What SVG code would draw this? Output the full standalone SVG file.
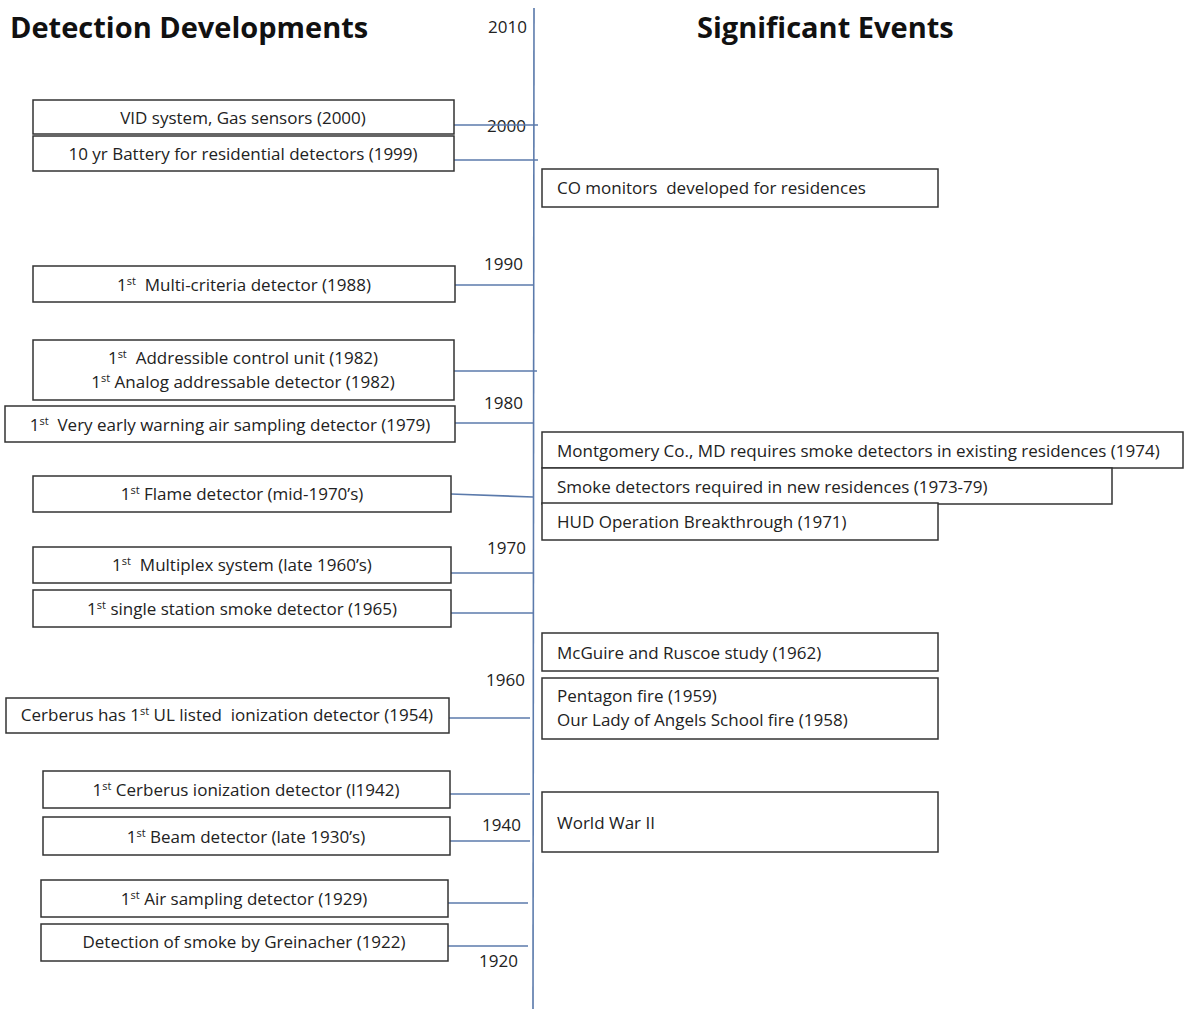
<svg xmlns="http://www.w3.org/2000/svg" width="1186" height="1009" viewBox="0 0 1186 1009">
<style>
.box{fill:#fff;stroke:#333;stroke-width:1.5}
text{white-space:pre}
.t{font-family:"Open Sans","Liberation Sans",Arial,sans-serif;font-size:17px;fill:#222}
.c{text-anchor:middle}
.h{font-family:"Open Sans","Liberation Sans",Arial,sans-serif;font-size:29px;font-weight:bold;fill:#111}
.yr{font-family:"Open Sans","Liberation Sans",Arial,sans-serif;font-size:17px;fill:#222}
.sup{font-size:11px}
.ln{stroke:#5b7aab;stroke-width:1.6;fill:none}
</style>
<rect width="1186" height="1009" fill="#fff"/>
<text class="h" x="10" y="38">Detection Developments</text>
<text class="h" x="697" y="38">Significant Events</text>
<g id="axis">
<line class="ln" x1="534" y1="8" x2="533" y2="1009"/>
<text class="yr" x="527" y="33" text-anchor="end">2010</text>
<text class="yr" x="526" y="132" text-anchor="end">2000</text>
<text class="yr" x="523" y="270" text-anchor="end">1990</text>
<text class="yr" x="523" y="409" text-anchor="end">1980</text>
<text class="yr" x="526" y="554" text-anchor="end">1970</text>
<text class="yr" x="525" y="686" text-anchor="end">1960</text>
<text class="yr" x="521" y="831" text-anchor="end">1940</text>
<text class="yr" x="518" y="967" text-anchor="end">1920</text>
</g>
<g id="connectors">
<line class="ln" x1="454" y1="125" x2="538" y2="125"/>
<line class="ln" x1="454" y1="160" x2="538" y2="160"/>
<line class="ln" x1="455" y1="285" x2="534" y2="285"/>
<line class="ln" x1="454" y1="371" x2="537" y2="371"/>
<line class="ln" x1="455" y1="423" x2="534" y2="423"/>
<line class="ln" x1="451" y1="494" x2="533" y2="497"/>
<line class="ln" x1="451" y1="573" x2="534" y2="573"/>
<line class="ln" x1="451" y1="613" x2="534" y2="613"/>
<line class="ln" x1="449" y1="718" x2="530" y2="718"/>
<line class="ln" x1="450" y1="794" x2="530" y2="794"/>
<line class="ln" x1="450" y1="841" x2="530" y2="841"/>
<line class="ln" x1="448" y1="903" x2="528" y2="903"/>
<line class="ln" x1="448" y1="946" x2="528" y2="946"/>
</g>
<g id="n1"><rect class="box" x="33" y="100" width="421" height="34"/><text class="t c" x="243" y="124">VID system, Gas sensors (2000)</text></g>
<g id="n2"><rect class="box" x="33" y="136" width="421" height="35"/><text class="t c" x="243" y="160">10 yr Battery for residential detectors (1999)</text></g>
<g id="n3"><rect class="box" x="33" y="266" width="422" height="36"/><text class="t c" x="244" y="291">1<tspan class="sup" dy="-6">st</tspan><tspan dy="6">  Multi-criteria detector (1988)</tspan></text></g>
<g id="n4"><rect class="box" x="33" y="340" width="421" height="60"/><text class="t c" x="243" y="364">1<tspan class="sup" dy="-6">st</tspan><tspan dy="6">  Addressible control unit (1982)</tspan></text><text class="t c" x="243" y="388">1<tspan class="sup" dy="-6">st</tspan><tspan dy="6"> Analog addressable detector (1982)</tspan></text></g>
<g id="n5"><rect class="box" x="5" y="406" width="450" height="36"/><text class="t c" x="230" y="431">1<tspan class="sup" dy="-6">st</tspan><tspan dy="6">  Very early warning air sampling detector (1979)</tspan></text></g>
<g id="n6"><rect class="box" x="33" y="476" width="418" height="36"/><text class="t c" x="242" y="500">1<tspan class="sup" dy="-6">st</tspan><tspan dy="6"> Flame detector (mid-1970’s)</tspan></text></g>
<g id="n7"><rect class="box" x="33" y="547" width="418" height="36"/><text class="t c" x="242" y="571">1<tspan class="sup" dy="-6">st</tspan><tspan dy="6">  Multiplex system (late 1960’s)</tspan></text></g>
<g id="n8"><rect class="box" x="33" y="590" width="418" height="37"/><text class="t c" x="242" y="615">1<tspan class="sup" dy="-6">st</tspan><tspan dy="6"> single station smoke detector (1965)</tspan></text></g>
<g id="n9"><rect class="box" x="6" y="698" width="443" height="35"/><text class="t c" x="227" y="721">Cerberus has 1<tspan class="sup" dy="-6">st</tspan><tspan dy="6"> UL listed  ionization detector (1954)</tspan></text></g>
<g id="n10"><rect class="box" x="43" y="771" width="407" height="37"/><text class="t c" x="246" y="796">1<tspan class="sup" dy="-6">st</tspan><tspan dy="6"> Cerberus ionization detector (l1942)</tspan></text></g>
<g id="n11"><rect class="box" x="43" y="817" width="407" height="38"/><text class="t c" x="246" y="843">1<tspan class="sup" dy="-6">st</tspan><tspan dy="6"> Beam detector (late 1930’s)</tspan></text></g>
<g id="n12"><rect class="box" x="41" y="880" width="407" height="37"/><text class="t c" x="244" y="905">1<tspan class="sup" dy="-6">st</tspan><tspan dy="6"> Air sampling detector (1929)</tspan></text></g>
<g id="n13"><rect class="box" x="41" y="924" width="407" height="37"/><text class="t c" x="244" y="948">Detection of smoke by Greinacher (1922)</text></g>
<g id="e1"><rect class="box" x="542" y="169" width="396" height="38"/><text class="t" x="557" y="194">CO monitors  developed for residences</text></g>
<g id="e2"><rect class="box" x="542" y="432" width="641" height="36"/><text class="t" x="557" y="457">Montgomery Co., MD requires smoke detectors in existing residences (1974)</text></g>
<g id="e3"><rect class="box" x="542" y="468" width="570" height="36"/><text class="t" x="557" y="493">Smoke detectors required in new residences (1973-79)</text></g>
<g id="e4"><rect class="box" x="542" y="503" width="396" height="37"/><text class="t" x="557" y="528">HUD Operation Breakthrough (1971)</text></g>
<g id="e5"><rect class="box" x="542" y="633" width="396" height="38"/><text class="t" x="557" y="659">McGuire and Ruscoe study (1962)</text></g>
<g id="e6"><rect class="box" x="542" y="678" width="396" height="61"/><text class="t" x="557" y="702">Pentagon fire (1959)</text><text class="t" x="557" y="726">Our Lady of Angels School fire (1958)</text></g>
<g id="e7"><rect class="box" x="542" y="792" width="396" height="60"/><text class="t" x="557" y="829">World War II</text></g>
</svg>
